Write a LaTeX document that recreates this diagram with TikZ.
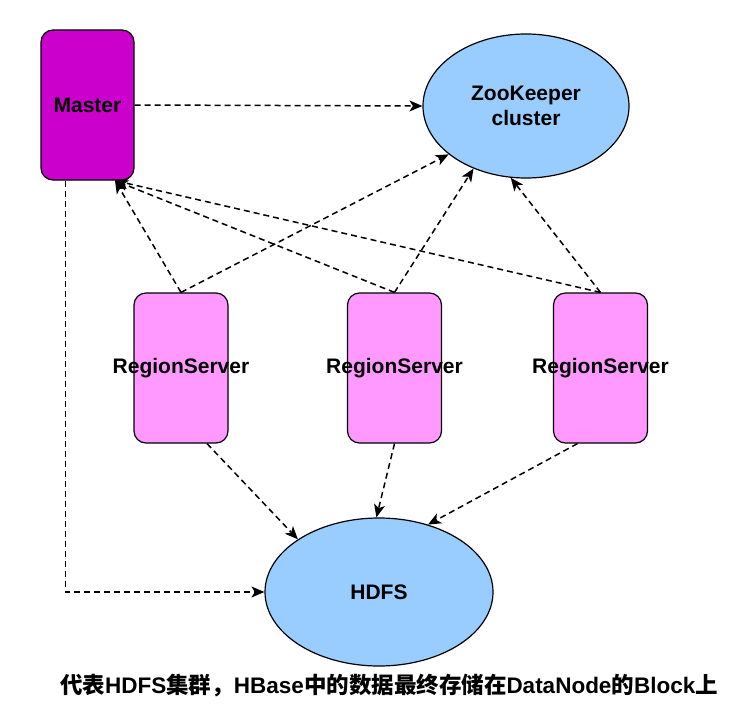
\documentclass[tikz,border=0pt]{standalone}
\usepackage{fontspec}
\setmainfont{Liberation Sans}
\newfontfamily\cjk{Noto Sans CJK SC}
\usetikzlibrary{positioning}
\usetikzlibrary{shapes.geometric,calc,arrows.meta}

\definecolor{masterfill}{HTML}{CC00CC}
\definecolor{serverfill}{HTML}{FF99FF}
\definecolor{clusterfill}{HTML}{99CCFF}

\tikzset{
	label font/.style={font=\bfseries\fontsize{21}{25}\selectfont},
	master/.style={draw=black, line width=1.2pt, rounded corners=12pt, fill=masterfill, minimum width=93pt, minimum height=150pt, label font},
	server/.style={draw=black, line width=1.2pt, rounded corners=12pt, fill=serverfill, minimum width=94pt, minimum height=150pt, inner sep=0pt, label font},
	cluster/.style={ellipse, draw=black, line width=1.2pt, fill=clusterfill, inner sep=0pt, label font, align=center},
	link/.style={line width=1.5pt, dash pattern=on 6pt off 4pt, -{Stealth[length=13pt,width=11pt,inset=3.5pt]}}
}

\begin{document}
\begin{tikzpicture}[x=1pt,y=-1pt]
		\useasboundingbox (0,0) rectangle (754,717);
		
		\node[master] (master) at (87.5,105) {Master};
		\node[cluster, minimum width=206pt, minimum height=144pt] (zk) at (526,106) {ZooKeeper\\cluster};
		
		\node[server, label={[label font]center:RegionServer}] (rs1) at (181,368) {};
		\node[server, label={[label font]center:RegionServer}] (rs2) at (394.5,368) {};
		\node[server, label={[label font]center:RegionServer}] (rs3) at (600.5,368) {};
		
		\node[cluster, minimum width=228pt, minimum height=148pt] (hdfs) at (379,592) {HDFS};
		
		% Master
		\draw[link] (master.east) -- (zk.west);
		\draw[link] ([xshift=-22pt]master.south) |- (hdfs.west);
		
		% RegionServer -> Master, ZooKeeper
		\draw[link] (rs1.north) -- (master.-70);
		\draw[link] (rs1.north) -- (zk.212);
		\draw[link] (rs2.north) -- (master.-70);
		\draw[link] (rs2.north) -- (zk.230);
		\draw[link] (rs3.north) -- (master.-70);
		\draw[link] (rs3.north) -- (zk.258);
		
		% RegionServer -> HDFS
		\draw[link] ([xshift=26pt]rs1.south) -- (hdfs.147);
		\draw[link] (rs2.south) -- (hdfs.92);
		\draw[link] ([xshift=-23pt]rs3.south) -- (hdfs.54);
		
		\node[font=\bfseries\fontsize{22.5}{26}\selectfont] (note) at (389,686) {{\cjk 代表}HDFS{\cjk 集群，}HBase{\cjk 中的数据最终存储在}DataNode{\cjk 的}Block{\cjk 上}};
\end{tikzpicture}
\end{document}
